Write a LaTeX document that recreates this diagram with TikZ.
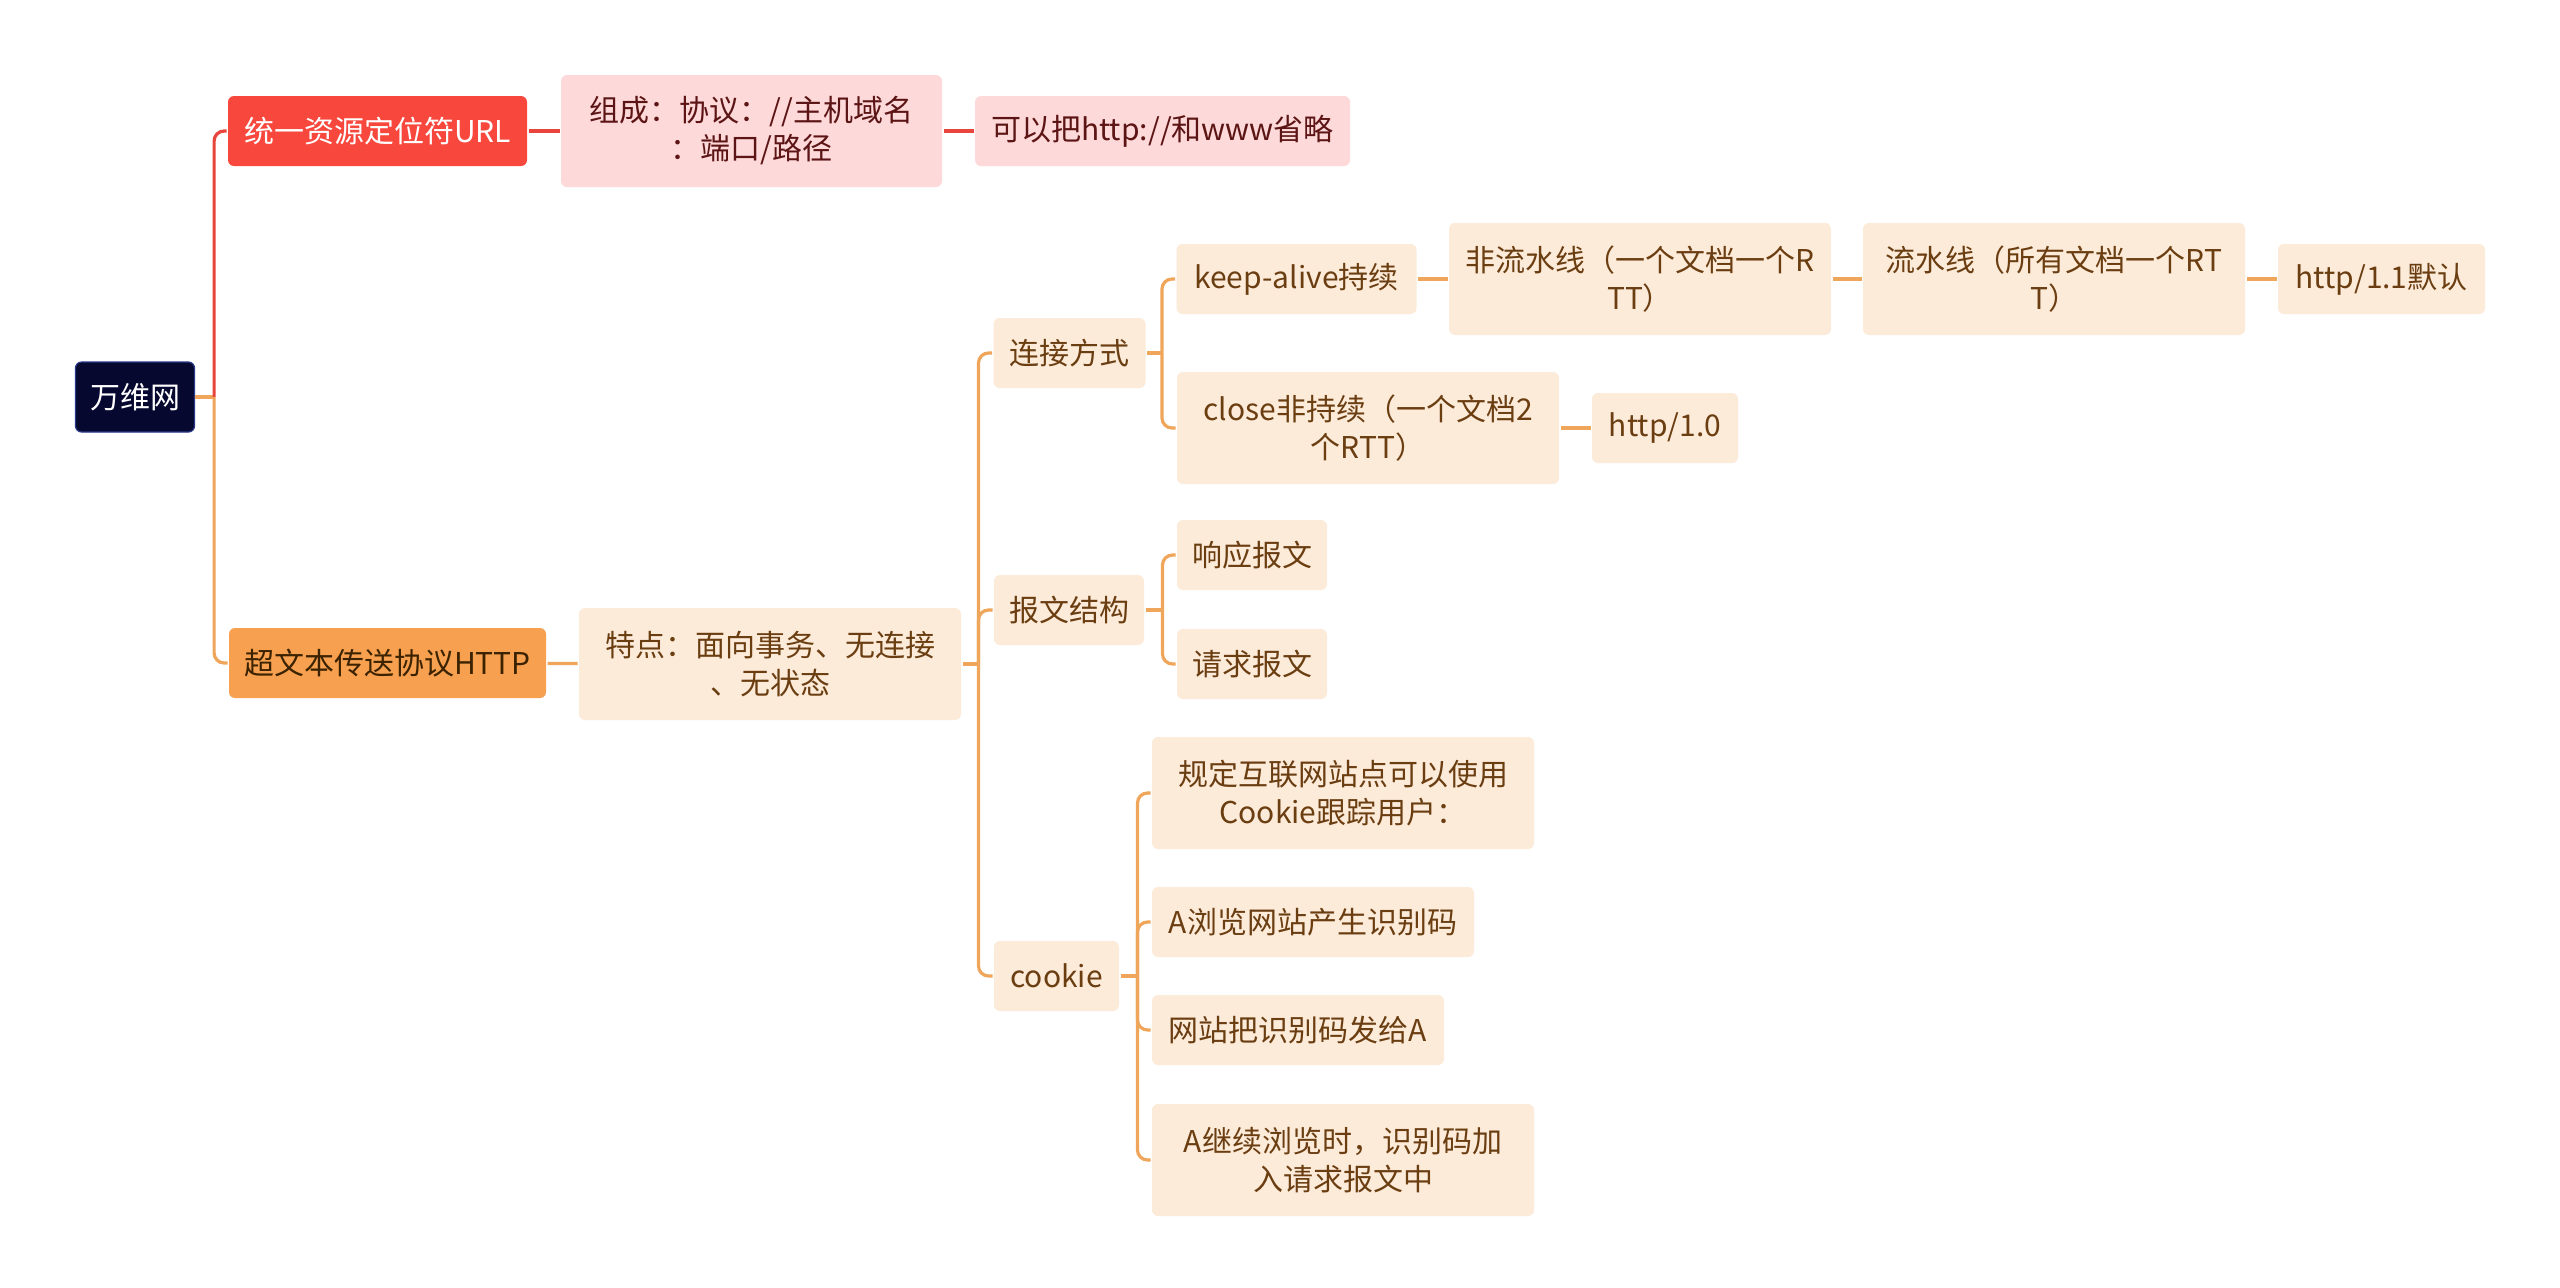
\documentclass[tikz,border=0pt]{standalone}
\usepackage{fontspec}
\setmainfont{Noto Sans CJK SC}
\definecolor{navy}{HTML}{06082F}
\definecolor{navyrim}{HTML}{2A3A8A}
\definecolor{urlred}{HTML}{F8473C}
\definecolor{pinkfill}{HTML}{FDD9D9}
\definecolor{pinktext}{HTML}{5C1414}
\definecolor{httporange}{HTML}{F7A04F}
\definecolor{httptext}{HTML}{3B2200}
\definecolor{beige}{HTML}{FDEBDA}
\definecolor{beigetext}{HTML}{6B3E12}
\definecolor{redline}{HTML}{E8453C}
\definecolor{orangeline}{HTML}{EFA55A}
\begin{document}
\begin{tikzpicture}[x=0.5pt, y=-0.5pt, line width=1.5pt,
  box/.style={rounded corners=3pt, align=center, inner xsep=7pt, inner ysep=8pt,
    minimum height=35pt, font=\fontsize{15pt}{19pt}\selectfont},
  tallbox/.style={minimum height=56pt},
  rootbox/.style={box, fill=navy, draw=navyrim, line width=0.6pt, text=white},
  urlbox/.style={box, fill=urlred, text=white},
  pinkbox/.style={box, fill=pinkfill, text=pinktext},
  httpbox/.style={box, fill=httporange, text=httptext},
  leafbox/.style={box, fill=beige, text=beigetext},
  redlink/.style={draw=redline, line width=1.6pt},
  orangelink/.style={draw=orangeline, line width=1.6pt}]
\useasboundingbox[fill=white] (0,0) rectangle (2560,1287);
\node[rootbox, minimum width=59.5pt] (P_0_0) at (135,397) {万维网};
\node[urlbox, minimum width=149.5pt] (P_1_0) at (377.5,131) {统一资源定位符URL};
\node[pinkbox, tallbox, minimum width=190.5pt] (P_2_0) at (751.5,131) {组成：协议：//主机域名\\：端口/路径};
\node[pinkbox, minimum width=187.5pt] (P_3_0) at (1162.5,131) {可以把http://和www省略};
\node[httpbox, minimum width=158.5pt] (P_1_1) at (387.5,663) {超文本传送协议HTTP};
\node[leafbox, tallbox, minimum width=191pt] (P_2_1) at (770,664) {特点：面向事务、无连接\\、无状态};
\node[leafbox, minimum width=76pt] (P_3_1) at (1069.5,353) {连接方式};
\node[leafbox, minimum width=75pt] (P_3_2) at (1069,610) {报文结构};
\node[leafbox, minimum width=62.5pt] (P_3_3) at (1056.5,976) {cookie};
\node[leafbox, minimum width=120pt] (P_4_0) at (1296.5,279) {keep-alive持续};
\node[leafbox, tallbox, minimum width=191pt] (P_5_0) at (1640,279) {非流水线（一个文档一个R\\TT）};
\node[leafbox, tallbox, minimum width=191pt] (P_6_0) at (2054,279) {流水线（所有文档一个RT\\T）};
\node[leafbox, minimum width=103.5pt] (P_7_0) at (2381.5,279) {http/1.1默认};
\node[leafbox, tallbox, minimum width=191pt] (P_4_1) at (1368,428) {close非持续（一个文档2\\个RTT）};
\node[leafbox, minimum width=73pt] (P_5_1) at (1665,428) {http/1.0};
\node[leafbox, minimum width=75pt] (P_4_2) at (1252,555) {响应报文};
\node[leafbox, minimum width=75pt] (P_4_3) at (1252,664) {请求报文};
\node[leafbox, tallbox, minimum width=191pt] (P_4_4) at (1343,793) {规定互联网站点可以使用\\Cookie跟踪用户：};
\node[leafbox, minimum width=161pt] (P_4_5) at (1313,922) {A浏览网站产生识别码};
\node[leafbox, minimum width=146pt] (P_4_6) at (1298,1030) {网站把识别码发给A};
\node[leafbox, tallbox, minimum width=191pt] (P_4_7) at (1343,1160) {A继续浏览时，识别码加\\入请求报文中};
% root branches
\draw[orangelink] (P_0_0.east) -- ++(19,0) coordinate (J_0);
\draw[redlink, rounded corners=5pt] (J_0) |- (P_1_0.west);
\draw[orangelink, rounded corners=5pt] (J_0) |- (P_1_1.west);
\draw[redlink] (P_1_0) -- (P_2_0);
\draw[redlink] (P_2_0) -- (P_3_0);
\draw[orangelink] (P_1_1) -- (P_2_1);
% http branches
\draw[orangelink] (P_2_1.east) -- ++(16,0) coordinate (J_1);
\draw[orangelink, rounded corners=5pt] (J_1) |- (P_3_1.west);
\draw[orangelink, rounded corners=5pt] (J_1) |- (P_3_2.west);
\draw[orangelink, rounded corners=5pt] (J_1) |- (P_3_3.west);
\draw[orangelink] (P_3_1.east) -- ++(15,0) coordinate (J_2);
\draw[orangelink, rounded corners=5pt] (J_2) |- (P_4_0.west);
\draw[orangelink, rounded corners=5pt] (J_2) |- (P_4_1.west);
\draw[orangelink] (P_4_0) -- (P_5_0);
\draw[orangelink] (P_5_0) -- (P_6_0);
\draw[orangelink] (P_6_0) -- (P_7_0);
\draw[orangelink] (P_4_1) -- (P_5_1);
\draw[orangelink] (P_3_2.east) -- ++(17,0) coordinate (J_3);
\draw[orangelink, rounded corners=5pt] (J_3) |- (P_4_2.west);
\draw[orangelink, rounded corners=5pt] (J_3) |- (P_4_3.west);
\draw[orangelink] (P_3_3.east) -- ++(17,0) coordinate (J_4);
\draw[orangelink, rounded corners=5pt] (J_4) |- (P_4_4.west);
\draw[orangelink, rounded corners=5pt] (J_4) |- (P_4_5.west);
\draw[orangelink, rounded corners=5pt] (J_4) |- (P_4_6.west);
\draw[orangelink, rounded corners=5pt] (J_4) |- (P_4_7.west);
\end{tikzpicture}
\end{document}
